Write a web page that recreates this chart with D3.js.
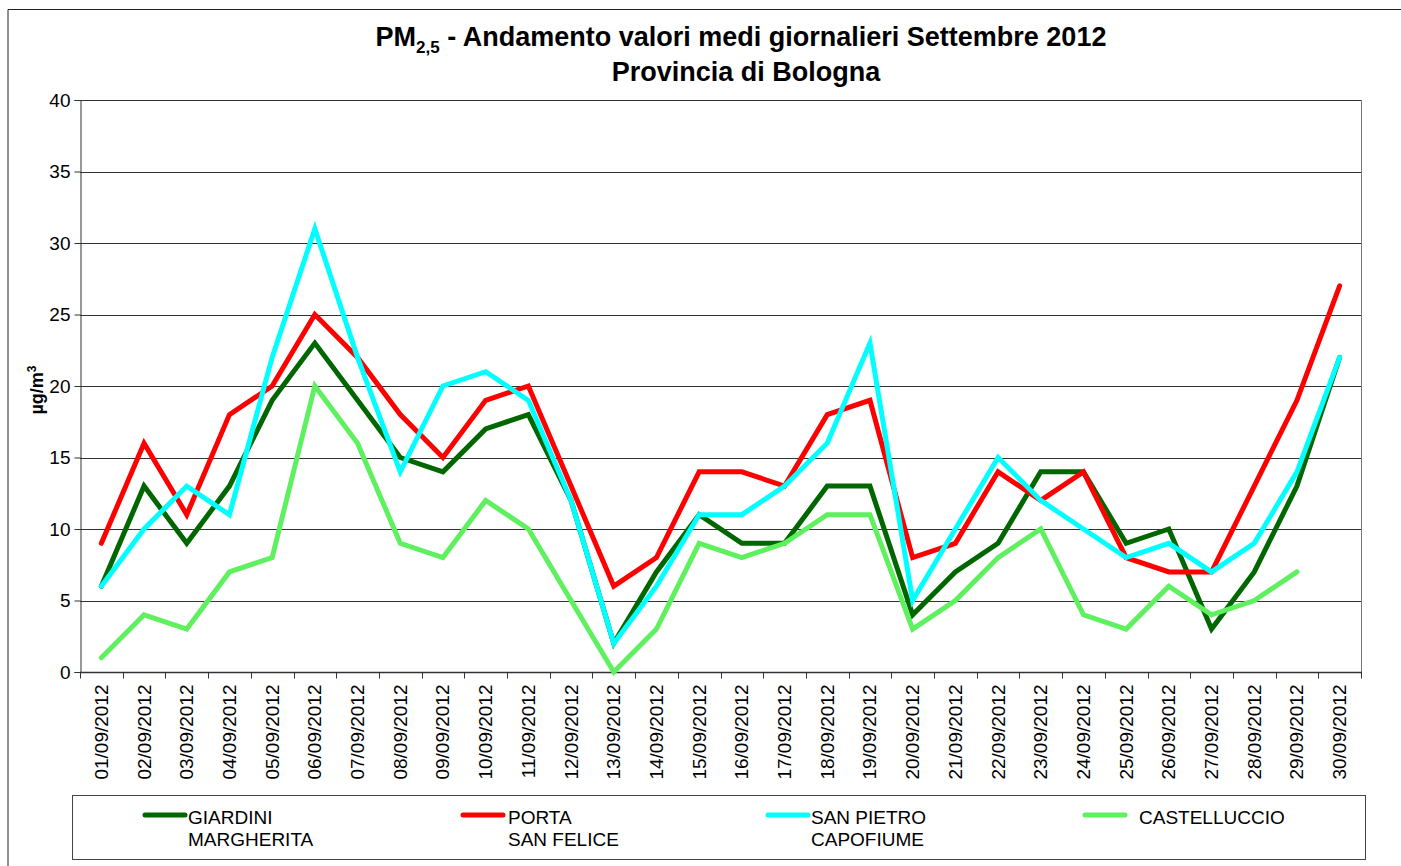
<!DOCTYPE html>
<html>
<head>
<meta charset="utf-8">
<script src="https://cdn.jsdelivr.net/npm/d3@7"></script>
<style>
    body { margin: 0; background: #fff; }
    svg { display: block; font-family: "Liberation Sans", Arial, sans-serif; }
</style>
</head>
<body>
<svg id="chart" width="1401" height="866"></svg>
<script>
// Data
const days = d3.range(1, 31).map(d => String(d).padStart(2, "0") + "/09/2012");
const giardini = [6, 13, 9, 13, 19, 23, 19, 15, 14, 17, 18, 12, 2, 7, 11, 9, 9, 13, 13, 4, 7, 9, 14, 14, 9, 10, 3, 7, 13, 22];
const porta = [9, 16, 11, 18, 20, 25, 22, 18, 15, 19, 20, 13, 6, 8, 14, 14, 13, 18, 19, 8, 9, 14, 12, 14, 8, 7, 7, 13, 19, 27];
const sanPietro = [6, 10, 13, 11, 22, 31, 22, 14, 20, 21, 19, 12, 2, 6, 11, 11, 13, 16, 23, 5, 10, 15, 12, 10, 8, 9, 7, 9, 14, 22];
const castelluccio = [1, 4, 3, 7, 8, 20, 16, 9, 8, 12, 10, 5, 0, 3, 9, 8, 9, 11, 11, 3, 5, 8, 10, 4, 3, 6, 4, 5, 7, null];
const yTicks = [0, 5, 10, 15, 20, 25, 30, 35, 40];

const series = [
    { name: ["GIARDINI", "MARGHERITA"], values: giardini, color: "#006600" },
    { name: ["PORTA", "SAN FELICE"], values: porta, color: "#ff0000" },
    { name: ["SAN PIETRO", "CAPOFIUME"], values: sanPietro, color: "#00ffff" },
    { name: ["CASTELLUCCIO"], values: castelluccio, color: "#5ff05f" }
];

/**************************************************************************************************/
const svg = d3.select("#chart");
const plot = { left: 80, right: 1361, top: 100, bottom: 672 };

// outer frame of the chart object
svg.append("path")
    .attr("d", "M8,866 V9.5 H1401")
    .attr("fill", "none")
    .attr("stroke", "#222")
    .attr("stroke-width", 1);

const x = d3.scaleBand().domain(days).range([plot.left, plot.right]);
const y = d3.scaleLinear().domain([0, 40]).range([plot.bottom, plot.top]);

// gridlines
svg.append("g")
    .selectAll("line")
    .data(yTicks.filter(d => d > 0))
    .join("line")
        .attr("x1", plot.left)
        .attr("x2", plot.right)
        .attr("y1", d => Math.round(y(d)) + 0.5)
        .attr("y2", d => Math.round(y(d)) + 0.5)
        .attr("stroke", "#333")
        .attr("stroke-width", 1);

// right border of plot area
svg.append("line")
    .attr("x1", plot.right + 0.5).attr("x2", plot.right + 0.5)
    .attr("y1", plot.top).attr("y2", plot.bottom)
    .attr("stroke", "#777");

// y axis
const yAxis = svg.append("g")
    .attr("transform", `translate(${plot.left + 0.5},0)`)
    .call(d3.axisLeft(y).tickValues(yTicks).tickSize(6).tickPadding(4));
yAxis.select(".domain").attr("stroke", "#333");
yAxis.selectAll(".tick line").attr("stroke", "#333");
yAxis.selectAll("text")
    .attr("font-size", 19)
    .attr("fill", "#000")
    .attr("font-family", "Liberation Sans, Arial, sans-serif");

// x axis with ticks between categories
const xAxis = svg.append("g")
    .attr("transform", `translate(0,${Math.round(plot.bottom) + 0.5})`);
xAxis.append("line")
    .attr("x1", plot.left).attr("x2", plot.right + 1)
    .attr("stroke", "#333").attr("stroke-width", 1.5);
xAxis.selectAll("line.tick")
    .data(days.concat(["end"]))
    .join("line")
        .attr("class", "tick")
        .attr("x1", (d, i) => Math.round(plot.left + i * x.step()) + 0.5)
        .attr("x2", (d, i) => Math.round(plot.left + i * x.step()) + 0.5)
        .attr("y1", 0)
        .attr("y2", 6)
        .attr("stroke", "#333");
xAxis.selectAll("text")
    .data(days)
    .join("text")
        .text(d => d)
        .attr("transform", d => `translate(${x(d) + x.bandwidth() / 2 + 6.5},12) rotate(-90)`)
        .attr("text-anchor", "end")
        .attr("font-size", 19)
        .attr("fill", "#000");

// y axis title
svg.append("text")
    .attr("transform", "translate(43,390) rotate(-90)")
    .attr("text-anchor", "middle")
    .attr("font-size", 18)
    .attr("font-weight", "bold")
    .html('µg/m<tspan baseline-shift="super" font-size="12">3</tspan>');

// title
const title = svg.append("text")
    .attr("x", 741)
    .attr("y", 46)
    .attr("text-anchor", "middle")
    .attr("font-size", 27)
    .attr("font-weight", "bold");
title.append("tspan").text("PM");
title.append("tspan").attr("font-size", 17).attr("dy", 7).text("2,5");
title.append("tspan").attr("dy", -7).text(" - Andamento valori medi giornalieri Settembre 2012");
svg.append("text")
    .attr("x", 746)
    .attr("y", 81)
    .attr("text-anchor", "middle")
    .attr("font-size", 27)
    .attr("font-weight", "bold")
    .text("Provincia di Bologna");

// lines
const line = d3.line()
    .defined(d => d[1] !== null)
    .x(d => x(d[0]) + x.bandwidth() / 2)
    .y(d => y(d[1]));

svg.append("g")
    .selectAll("path")
    .data(series)
    .join("path")
        .attr("d", s => line(d3.zip(days, s.values)))
        .attr("fill", "none")
        .attr("stroke", s => s.color)
        .attr("stroke-width", 5)
        .attr("stroke-linejoin", "miter")
        .attr("stroke-linecap", "round");

// legend
svg.append("rect")
    .attr("x", 72.5).attr("y", 795.5)
    .attr("width", 1293).attr("height", 64)
    .attr("fill", "none")
    .attr("stroke", "#444");

const legendX = [145, 463, 768, 1085];
const textGap = [3, 5, 3, 14];
const legend = svg.append("g")
    .selectAll("g")
    .data(series)
    .join("g")
        .attr("transform", (s, i) => `translate(${legendX[i]},0)`);
legend.append("line")
    .attr("x1", 0).attr("x2", 40)
    .attr("y1", 815).attr("y2", 815)
    .attr("stroke", s => s.color)
    .attr("stroke-width", 5)
    .attr("stroke-linecap", "round");
legend.append("text")
    .attr("font-size", 19)
    .attr("fill", "#000")
    .selectAll("tspan")
    .data((s, i) => s.name.map(n => [n, i]))
    .join("tspan")
        .attr("x", d => 40 + textGap[d[1]])
        .attr("y", (d, j) => 824 + j * 22)
        .text(d => d[0]);
</script>
</body>
</html>
